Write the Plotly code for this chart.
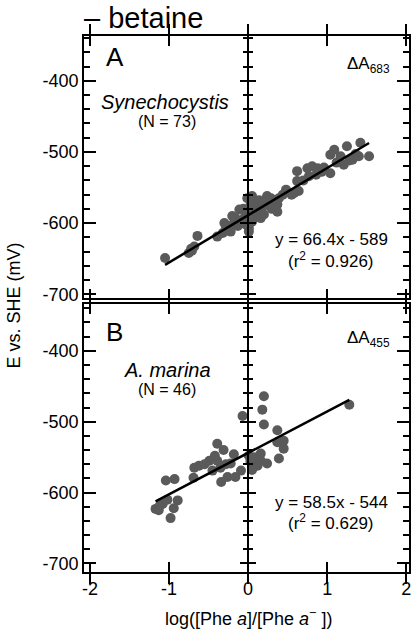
import plotly.graph_objects as go

# ---------------- data ----------------
syn_x = [-1.05, -0.75, -0.71, -0.68, -0.64, -0.72, -0.39, -0.32, -0.30, -0.25,
         -0.22, -0.18, -0.16, -0.13, -0.11, -0.08, -0.05, -0.03, -0.02, 0.01,
         0.01, -0.01, 0.03, 0.05, 0.05, 0.08, 0.10, 0.12, 0.14, 0.16,
         0.18, 0.20, 0.22, 0.24, 0.27, 0.29, 0.33, 0.37, 0.37, 0.39,
         0.48, 0.55, 0.58, 0.62, 0.64, 0.62, 0.70, 0.75, 0.77, 0.81,
         0.86, 0.88, 0.93, 1.04, 1.04, 1.09, 1.12, 1.17, 1.21, 1.25,
         1.28, 1.32, 1.36, 1.40, 1.42, 1.53, -0.20, -0.06, 0.07, 0.30,
         -0.28, 0.44, 0.96]
syn_y = [-649, -642, -639, -633, -618, -636, -619, -614, -600, -608,
         -612, -600, -593, -604, -581, -597, -593, -602, -588, -607,
         -612, -565, -575, -562, -598, -574, -592, -584, -568, -593,
         -578, -588, -567, -562, -572, -565, -578, -574, -584, -565,
         -553, -560, -558, -541, -555, -527, -540, -523, -534, -520,
         -532, -523, -528, -530, -504, -497, -515, -506, -518, -492,
         -512, -511, -503, -506, -487, -506, -590, -580, -585, -580,
         -605, -560, -522]

mar_x = [-1.17, -1.12, -1.08, -1.02, -0.89, -0.94, -0.98, -1.04, -0.93, -0.68,
         -0.62, -0.69, -0.49, -0.45, -0.39, -0.31, -0.39, -0.35, -0.34, -0.26,
         -0.18, -0.22, -0.16, -0.09, -0.07, 0.01, 0.05, 0.12, 0.16, 0.16,
         0.20, 0.18, 0.20, 0.24, 0.37, 0.37, 0.45, 0.45, 0.39, 1.28,
         -0.55, -0.28, 0.03, -1.13, -0.42, 0.08]
mar_y = [-623, -619, -616, -610, -611, -622, -636, -583, -581, -565,
         -562, -579, -555, -569, -531, -540, -555, -565, -585, -578,
         -546, -559, -578, -569, -492, -548, -568, -562, -545, -555,
         -464, -483, -504, -559, -512, -529, -527, -538, -552, -476,
         -560, -560, -556, -625, -548, -550]

# regression lines (slope, intercept)
syn_fit = (66.4, -589)
mar_fit = (58.5, -544)

x_ticks = [-2, -1, 0, 1, 2]
x_labels = ["-2", "-1", "0", "1", "2"]
y_ticks = [-400, -500, -600, -700]
y_labels = ["-400", "-500", "-600", "-700"]

# ---------------- figure ----------------
fig = go.Figure()
mcol = "#5a5a5a"
FONT = "Liberation Sans, Arial, sans-serif"

def fitline(xs, fit):
    x0, x1 = min(xs), max(xs)
    return [x0, x1], [fit[0] * x0 + fit[1], fit[0] * x1 + fit[1]]

# top panel (A): markers on y5, line on y6 (both share y2's range)
fig.add_trace(go.Scatter(x=syn_x, y=syn_y, mode="markers", xaxis="x2", yaxis="y5",
                         marker=dict(size=10, color=mcol), showlegend=False))
lx, ly = fitline(syn_x, syn_fit)
fig.add_trace(go.Scatter(x=lx, y=ly, mode="lines", xaxis="x2", yaxis="y6",
                         line=dict(color="black", width=2.5), showlegend=False))
# bottom panel (B): markers on y3, line on y4 (both share y's range)
fig.add_trace(go.Scatter(x=mar_x, y=mar_y, mode="markers", xaxis="x", yaxis="y3",
                         marker=dict(size=10, color=mcol), showlegend=False))
lx, ly = fitline(mar_x, mar_fit)
fig.add_trace(go.Scatter(x=lx, y=ly, mode="lines", xaxis="x", yaxis="y4",
                         line=dict(color="black", width=2.5), showlegend=False))
# base subplots
fig.add_trace(go.Scatter(x=[], y=[], xaxis="x", yaxis="y", showlegend=False))
fig.add_trace(go.Scatter(x=[], y=[], xaxis="x2", yaxis="y2", showlegend=False))

XR = [-2.075, 2.035]
LW = 1.6
xcommon = dict(range=XR, tickvals=x_ticks, ticktext=x_labels, ticks="inside", ticklen=10,
               tickwidth=1.5, tickcolor="black", showline=True, linecolor="black",
               linewidth=LW, mirror="allticks", showgrid=False, zeroline=False,
               tickfont=dict(family=FONT, size=18, color="black"))
ycommon = dict(tickvals=y_ticks, ticktext=y_labels, ticks="inside", ticklen=12,
               tickwidth=1.5, tickcolor="black", showline=True, linecolor="black",
               linewidth=LW, mirror="allticks", showgrid=False, zeroline=False,
               minor=dict(dtick=20, tick0=0, ticks="inside", ticklen=6, tickwidth=1.5,
                          tickcolor="black"),
               tickfont=dict(family=FONT, size=18, color="black"))

top_dom = [0.5103, 1.0]
bot_dom = [0.0, 0.5]
top_rng = [-706, -337]
bot_rng = [-712, -334]
zero_pos = (0 - XR[0]) / (XR[1] - XR[0])

def zero_axis(overlay, rng, side_ticks, show_line):
    return dict(overlaying=overlay, anchor="free", position=zero_pos, range=rng,
                tickvals=y_ticks, ticks=side_ticks, ticklen=7, tickwidth=1.5,
                tickcolor="black", showticklabels=False, showline=show_line,
                linecolor="black", linewidth=LW, showgrid=False, zeroline=False,
                side="left",
                minor=dict(dtick=20, tick0=0, ticks=side_ticks, ticklen=4,
                           tickwidth=1.5, tickcolor="black"))

fig.update_layout(
    width=417, height=629,
    margin=dict(l=84, r=6, t=36, b=57),
    paper_bgcolor="white", plot_bgcolor="white",
    font=dict(family=FONT, color="black"),
    hovermode=False,
    xaxis=dict(anchor="y", **xcommon),
    xaxis2=dict(anchor="y2", matches="x", showticklabels=False, **xcommon),
    yaxis=dict(domain=bot_dom, range=bot_rng, anchor="x", **ycommon),
    yaxis2=dict(domain=top_dom, range=top_rng, anchor="x2", **ycommon),
    yaxis3=zero_axis("y", bot_rng, "outside", True),
    yaxis4=zero_axis("y", bot_rng, "inside", False),
    yaxis5=zero_axis("y2", top_rng, "outside", True),
    yaxis6=zero_axis("y2", top_rng, "inside", False),
)

def ann(text, x, y, xref, yref, size, **kw):
    kw.setdefault("xanchor", "center")
    kw.setdefault("yanchor", "middle")
    fig.add_annotation(text=text, x=x, y=y, xref=xref, yref=yref, showarrow=False,
                       font=dict(family=FONT, size=size, color="black"), **kw)

# titles
ann("– betaine", -0.006, 1.0336, "paper", "paper", 29, xanchor="left")
ann("log([Phe <i>a</i>]/[Phe <i>a</i><sup>−</sup> ])", 0.505, -0.084, "paper", "paper", 18)
ann("E vs. SHE (mV)", -0.214, 0.498, "paper", "paper", 18, textangle=-90)

# panel A
ann("A", 0.095, 0.92, "x2 domain", "y2 domain", 26)
ann("<i>Synechocystis</i>", 0.249, 0.750, "x2 domain", "y2 domain", 20)
ann("(N = 73)", 0.254, 0.674, "x2 domain", "y2 domain", 16)
ann("ΔA<sub>683</sub>", 0.875, 0.890, "x2 domain", "y2 domain", 17)
ann("y = 66.4x - 589", 0.761, 0.224, "x2 domain", "y2 domain", 17)
ann("(r<sup>2</sup> = 0.926)", 0.761, 0.148, "x2 domain", "y2 domain", 17)

# panel B
ann("B", 0.095, 0.896, "x domain", "y domain", 26)
ann("<i>A. marina</i>", 0.257, 0.755, "x domain", "y domain", 20)
ann("(N = 46)", 0.254, 0.680, "x domain", "y domain", 16)
ann("ΔA<sub>455</sub>", 0.875, 0.870, "x domain", "y domain", 17)
ann("y = 58.5x - 544", 0.761, 0.261, "x domain", "y domain", 17)
ann("(r<sup>2</sup> = 0.629)", 0.761, 0.187, "x domain", "y domain", 17)

fig.write_html("out.html", config={"displayModeBar": False},
               post_script="document.body.style.margin='0';")
